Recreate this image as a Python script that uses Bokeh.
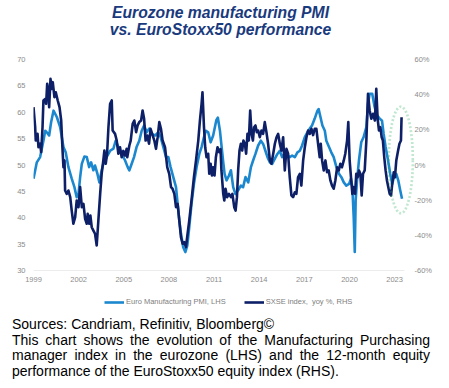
import numpy as np
from bokeh.plotting import figure
from bokeh.models import (Range1d, LinearAxis, FixedTicker, Label, Legend,
                          LegendItem, PolyAnnotation, Div)
from bokeh.layouts import column
from bokeh.embed import file_html
from bokeh.resources import INLINE

# ---------------- data ----------------
title_lines = ["Eurozone manufacturing PMI", "vs. EuroStoxx50 performance"]
legend_labels = ["Euro Manufacturing PMI, LHS", "SXSE index,  yoy %, RHS"]
sources_text = "Sources: Candriam, Refinitiv, Bloomberg\u00a9"
description_text = ("This chart shows the evolution of the Manufacturing Purchasing "
                    "manager index in the eurozone (LHS) and the 12-month equity "
                    "performance of the EuroStoxx50 equity index (RHS).")

pmi_year = [1999.00, 1999.22, 1999.44, 1999.66, 1999.78, 1999.88, 2000.04, 2000.17,
            2000.33, 2000.55, 2000.77, 2000.99, 2001.14, 2001.32, 2001.54, 2001.72,
            2001.87, 2001.99, 2002.10, 2002.21, 2002.38, 2002.54, 2002.70, 2002.83,
            2002.98, 2003.09, 2003.25, 2003.38, 2003.53, 2003.64, 2003.86, 2004.09,
            2004.31, 2004.46, 2004.64, 2004.86, 2005.08, 2005.26, 2005.37, 2005.52,
            2005.68, 2005.85, 2006.03, 2006.19, 2006.35, 2006.52, 2006.70, 2006.85,
            2007.08, 2007.29, 2007.45, 2007.63, 2007.81, 2007.96, 2008.11, 2008.29,
            2008.47, 2008.58, 2008.69, 2008.80, 2008.95, 2009.09, 2009.22, 2009.35,
            2009.50, 2009.66, 2009.84, 2010.02, 2010.17, 2010.33, 2010.46, 2010.61,
            2010.77, 2010.94, 2011.15, 2011.25, 2011.39, 2011.50, 2011.61, 2011.70,
            2011.83, 2011.99, 2012.12, 2012.27, 2012.42, 2012.60, 2012.78, 2012.93,
            2013.09, 2013.27, 2013.45, 2013.60, 2013.75, 2013.93, 2014.11, 2014.26,
            2014.41, 2014.55, 2014.71, 2014.86, 2015.04, 2015.21, 2015.37, 2015.52,
            2015.70, 2015.87, 2016.03, 2016.19, 2016.37, 2016.54, 2016.70, 2016.85,
            2017.03, 2017.20, 2017.36, 2017.51, 2017.69, 2017.87, 2017.95, 2018.02,
            2018.20, 2018.36, 2018.46, 2018.64, 2018.79, 2018.95, 2019.13, 2019.31,
            2019.46, 2019.62, 2019.79, 2019.97, 2020.10, 2020.19, 2020.28, 2020.35,
            2020.41, 2020.50, 2020.63, 2020.78, 2020.94, 2021.12, 2021.23, 2021.34,
            2021.51, 2021.67, 2021.83, 2022.01, 2022.16, 2022.27, 2022.40, 2022.56,
            2022.71, 2022.84, 2022.95, 2023.11, 2023.24, 2023.37, 2023.49]
pmi_value = [47.4, 50.5, 51.5, 54.6, 56.5, 56.2, 55.6, 58.1,
             60.3, 59.1, 57.2, 53.4, 52.4, 49.6, 47.4, 45.8,
             43.9, 44.5, 47.7, 50.2, 51.6, 51.5, 49.6, 50.5,
             49.0, 49.9, 48.3, 46.7, 49.0, 50.2, 51.5, 52.7,
             53.1, 54.6, 53.4, 52.1, 50.9, 49.6, 49.0, 50.2,
             51.5, 53.4, 54.6, 56.5, 57.5, 56.2, 56.9, 55.9,
             55.6, 56.2, 55.3, 53.4, 51.5, 51.5, 49.6, 47.7,
             45.8, 42.6, 39.5, 37.0, 34.4, 33.5, 34.7, 38.2,
             42.6, 46.4, 49.6, 52.1, 53.4, 55.3, 56.5, 56.2,
             54.3, 55.6, 58.5, 59.0, 56.5, 53.5, 50.5, 48.3,
             47.1, 48.0, 49.0, 45.8, 44.5, 45.2, 46.1, 45.8,
             47.7, 46.7, 49.6, 50.9, 52.1, 53.7, 54.6, 54.0,
             52.7, 51.5, 50.5, 50.2, 51.2, 52.1, 52.7, 51.5,
             52.1, 51.8, 51.5, 51.8, 51.5, 52.4, 52.7, 53.7,
             55.3, 56.2, 56.9, 57.5, 58.8, 60.3, 60.6, 59.7,
             57.5, 56.5, 54.6, 53.4, 52.4, 51.5, 49.6, 48.3,
             47.7, 46.7, 46.1, 46.4, 47.4, 45.8, 40.1, 33.5,
             43.3, 47.1, 50.9, 54.3, 55.3, 57.2, 61.6, 63.5,
             63.5, 61.0, 59.4, 58.8, 58.4, 55.9, 53.4, 50.9,
             48.3, 46.4, 47.7, 48.3, 47.1, 45.2, 43.6]

sxse_year = [1999.00, 1999.11, 1999.15, 1999.27, 1999.33, 1999.44, 1999.51, 1999.60,
             1999.66, 1999.78, 1999.84, 1999.91, 2000.00, 2000.04, 2000.13, 2000.21,
             2000.28, 2000.39, 2000.48, 2000.61, 2000.73, 2000.84, 2000.92, 2000.99,
             2001.06, 2001.10, 2001.21, 2001.32, 2001.44, 2001.54, 2001.65, 2001.77,
             2001.87, 2001.99, 2002.10, 2002.21, 2002.32, 2002.43, 2002.54, 2002.60,
             2002.70, 2002.78, 2002.87, 2002.98, 2003.09, 2003.20, 2003.31, 2003.43,
             2003.53, 2003.64, 2003.71, 2003.80, 2003.89, 2003.98, 2004.09, 2004.20,
             2004.26, 2004.42, 2004.53, 2004.64, 2004.75, 2004.86, 2004.97, 2005.08,
             2005.19, 2005.23, 2005.37, 2005.46, 2005.59, 2005.70, 2005.82, 2005.92,
             2006.03, 2006.15, 2006.25, 2006.35, 2006.45, 2006.56, 2006.68, 2006.78,
             2006.92, 2007.03, 2007.14, 2007.25, 2007.36, 2007.47, 2007.58, 2007.74,
             2007.89, 2008.02, 2008.14, 2008.24, 2008.36, 2008.47, 2008.58, 2008.69,
             2008.80, 2008.91, 2009.02, 2009.13, 2009.24, 2009.35, 2009.50, 2009.66,
             2009.80, 2009.95, 2010.06, 2010.17, 2010.23, 2010.33, 2010.41, 2010.50,
             2010.61, 2010.68, 2010.77, 2010.86, 2010.94, 2011.03, 2011.12, 2011.23,
             2011.34, 2011.43, 2011.49, 2011.61, 2011.68, 2011.76, 2011.87, 2011.99,
             2012.12, 2012.22, 2012.34, 2012.43, 2012.52, 2012.60, 2012.69, 2012.78,
             2012.87, 2012.95, 2013.05, 2013.13, 2013.22, 2013.31, 2013.40, 2013.49,
             2013.58, 2013.66, 2013.75, 2013.84, 2013.93, 2014.04, 2014.15, 2014.26,
             2014.37, 2014.48, 2014.59, 2014.71, 2014.81, 2014.93, 2015.04, 2015.15,
             2015.26, 2015.37, 2015.48, 2015.59, 2015.70, 2015.81, 2015.92, 2016.03,
             2016.14, 2016.25, 2016.37, 2016.47, 2016.58, 2016.70, 2016.80, 2016.92,
             2017.03, 2017.14, 2017.25, 2017.36, 2017.47, 2017.58, 2017.69, 2017.80,
             2017.91, 2018.02, 2018.09, 2018.18, 2018.29, 2018.40, 2018.51, 2018.62,
             2018.73, 2018.84, 2018.95, 2019.06, 2019.18, 2019.29, 2019.39, 2019.50,
             2019.62, 2019.72, 2019.84, 2019.92, 2020.01, 2020.10, 2020.19, 2020.28,
             2020.37, 2020.45, 2020.54, 2020.63, 2020.72, 2020.81, 2020.90, 2021.01,
             2021.12, 2021.23, 2021.34, 2021.45, 2021.56, 2021.69, 2021.78, 2021.87,
             2021.96, 2022.05, 2022.14, 2022.22, 2022.31, 2022.40, 2022.49, 2022.58,
             2022.67, 2022.76, 2022.84, 2022.94, 2023.02, 2023.11, 2023.23, 2023.32,
             2023.42, 2023.46]
sxse_value = [32.9, 21.5, 13.9, 17.7, 10.1, 12.1, 7.3, 21.5,
              36.7, 37.6, 34.8, 46.2, 41.4, 32.9, 49.0, 43.3,
              47.1, 38.6, 41.4, 36.7, 32.9, 25.3, 10.1, -1.3,
              2.6, -14.5, -16.4, -14.5, -18.3, -25.9, -33.4, -29.7,
              -20.2, -24.0, -12.6, -24.0, -22.1, -30.6, -33.4, -27.8,
              -33.4, -28.7, -35.4, -37.3, -39.1, -45.8, -31.6, -16.4,
              -5.0, 2.6, 8.2, 0.7, 6.4, 21.5, 34.8, 36.7,
              19.6, 17.7, 13.9, 6.4, 10.1, 4.4, 8.0, 5.4,
              9.2, 4.4, 11.1, 13.9, 23.4, 25.3, 18.7, 22.5,
              24.4, 25.3, 31.0, 26.3, 13.9, 16.8, 12.1, 20.6,
              16.8, 13.9, 9.2, 15.8, 24.4, 20.6, 13.9, 10.1,
              -1.3, -5.0, -12.6, -13.5, -16.4, -24.0, -22.1, -31.6,
              -41.1, -44.8, -43.9, -46.7, -39.1, -31.6, -20.2, -7.0,
              2.6, 13.9, 25.3, 34.8, 41.4, 21.5, 10.1, 4.4,
              6.4, -5.0, 0.7, -6.0, -1.3, -6.0, 4.4, 10.1,
              7.3, 9.0, -3.1, -16.4, -20.2, -13.5, -18.3, -16.4,
              -18.3, -16.4, -24.0, -25.9, -18.3, -3.1, 8.2, 12.1,
              8.2, 13.9, 12.1, 6.4, 17.7, 13.9, 31.0, 17.7,
              13.9, 21.5, 22.5, 18.7, 19.6, 15.8, 19.6, 17.7,
              24.4, 18.7, 12.1, 2.6, 0.7, 6.4, 12.1, 15.8,
              17.7, 12.1, 8.2, 15.8, -3.1, 9.2, 6.4, -7.0,
              -17.3, -18.3, -15.5, -16.4, -7.0, -5.0, -11.7, 2.6,
              10.1, 15.8, 19.6, 17.7, 20.6, 17.0, 20.6, 20.6,
              12.1, 4.4, 12.1, 2.6, -3.1, 2.6, -4.1, -3.1,
              -8.8, -11.7, -13.5, -8.8, -1.3, -3.1, 0.7, -1.3,
              2.6, 6.4, 13.9, 24.4, 2.6, -7.0, -16.4, -12.6,
              -16.4, -5.0, -7.0, -3.1, -5.0, -17.3, -5.0, -3.1,
              13.9, 40.5, 31.0, 26.3, 29.1, 25.3, 43.3, 26.3,
              19.6, 21.5, 15.8, 13.9, 4.4, -3.1, -8.8, -12.6,
              -16.4, -17.3, -10.7, -4.1, -7.0, 2.6, 8.2, 12.1,
              13.9, 27.2]

left_ticks = [30, 35, 40, 45, 50, 55, 60, 65, 70]
right_ticks = [-60, -40, -20, 0, 20, 40, 60]
right_tick_labels = ["-60%", "-40%", "-20%", "0%", "20%", "40%", "60%"]
year_ticks = [1999, 2002, 2005, 2008, 2011, 2014, 2017, 2020, 2023]
year_tick_labels = ["1999", "2002", "2005", "2008", "2011", "2014", "2017", "2020", "2023"]

# highlight ellipse (annotation around the latest readings)
ell_cx, ell_rx = 2023.41, 0.80
ell_cy, ell_ry = 50.95, 10.1

# ---------------- styles / layout ----------------
LIGHT = "#1B87CF"
DARK = "#0D1F66"
GREEN = "#2EAF60"
TITLE_C = "#1A3A7E"
TICK_C = "#8C8C8C"
FONT = "Liberation Sans"
W = 441


def bare_figure(height):
    f = figure(width=W, height=height, output_backend="svg", toolbar_location=None,
               x_axis_type=None, y_axis_type=None, x_range=Range1d(0, 1),
               y_range=Range1d(0, 1), min_border=0, min_border_left=0,
               min_border_right=0, min_border_top=0, min_border_bottom=0)
    f.outline_line_color = None
    f.xgrid.grid_line_color = None
    f.ygrid.grid_line_color = None
    return f


# ---- title block ----
TH = 44
tfig = bare_figure(TH)
for txt, yy in zip(title_lines, [32, 15]):
    tfig.add_layout(Label(x=187, y=yy, x_units="screen", y_units="screen",
                          text=txt, text_align="center", text_baseline="alphabetic",
                          text_font=FONT, text_font_style="bold italic",
                          text_font_size="15.7px", text_color=TITLE_C))

# ---- main chart ----
X_START, X_END = 1999.0, 2024.32      # visible x extent of the plot frame
AXIS_END = 2023.65                    # where the horizontal axis line stops

p = figure(width=W, height=248, output_backend="svg", toolbar_location=None,
           x_range=Range1d(X_START, X_END), y_range=Range1d(30, 70),
           min_border_left=33, min_border_right=27, min_border_top=15,
           min_border_bottom=22)
p.extra_y_ranges = {"pct": Range1d(-60, 60)}
p.outline_line_color = None
p.xgrid.grid_line_color = None
p.ygrid.grid_line_color = None

xa = p.xaxis[0]
xa.ticker = FixedTicker(ticks=year_ticks)
xa.major_label_overrides = dict(zip(year_ticks, year_tick_labels))
xa.axis_line_color = None
xa.major_tick_line_color = None
xa.minor_tick_line_color = None
xa.major_tick_in = 0
xa.major_tick_out = 0
xa.major_label_standoff = 6
xa.major_label_text_font = FONT
xa.major_label_text_font_size = "7.5px"
xa.major_label_text_color = TICK_C

p.segment(x0=[X_START], y0=[30], x1=[AXIS_END], y1=[30],
          line_color="#D9D9D9", line_width=1.2)

ya = p.yaxis[0]
ya.ticker = FixedTicker(ticks=left_ticks)
ya.axis_line_color = None
ya.major_tick_line_color = None
ya.minor_tick_line_color = None
ya.major_tick_in = 0
ya.major_tick_out = 0
ya.major_label_standoff = 8
ya.major_label_text_font = FONT
ya.major_label_text_font_size = "7.5px"
ya.major_label_text_color = TICK_C

ra = LinearAxis(y_range_name="pct", ticker=FixedTicker(ticks=right_ticks),
                major_label_overrides=dict(zip(right_ticks, right_tick_labels)))
ra.axis_line_color = None
ra.major_tick_line_color = None
ra.minor_tick_line_color = None
ra.major_tick_in = 0
ra.major_tick_out = 0
ra.major_label_standoff = 0
ra.major_label_text_font = FONT
ra.major_label_text_font_size = "7.5px"
ra.major_label_text_color = TICK_C
p.add_layout(ra, "right")

line_style = dict(line_width=2.6, line_join="round")
r1 = p.line(pmi_year, pmi_value, line_color=LIGHT, **line_style)
r2 = p.line(sxse_year, sxse_value, y_range_name="pct", line_color=DARK, **line_style)

t = np.linspace(0, 2 * np.pi, 160)
ell = PolyAnnotation(xs=list(ell_cx + ell_rx * np.cos(t)), ys=list(ell_cy + ell_ry * np.sin(t)),
                     fill_alpha=0, line_color=GREEN, line_width=2.7, line_dash="2 2")
p.add_layout(ell)

# ---- legend strip (proxy renderers hold no visible data) ----
LH = 25
lfig = bare_figure(LH)
nan_pt = np.array([np.nan])
k1 = lfig.line(x=nan_pt, y=nan_pt, line_color=LIGHT, **line_style)
k2 = lfig.line(x=nan_pt, y=nan_pt, line_color=DARK, **line_style)
legend = Legend(items=[LegendItem(label=legend_labels[0], renderers=[k1]),
                       LegendItem(label=legend_labels[1], renderers=[k2])],
                orientation="horizontal", location=(71, 11),
                glyph_width=20, glyph_height=8, label_height=8, label_standoff=2,
                spacing=18, padding=0, margin=0, border_line_color=None,
                background_fill_alpha=0, label_text_font=FONT,
                label_text_font_size="7.5px", label_text_color="#808080")
lfig.add_layout(legend)

# ---- caption ----
caption = Div(
    text=('<div style="font-family:\'Liberation Sans\',Arial,sans-serif;font-size:14px;'
          'line-height:15.5px;color:#000;">'
          f'<div>{sources_text}</div>'
          f'<div style="text-align:justify;">{description_text}</div></div>'),
    width=418, margin=(0, 0, 0, 12))

layout = column(tfig, p, lfig, caption, spacing=0)
open("out.html", "w").write(file_html(layout, INLINE))
